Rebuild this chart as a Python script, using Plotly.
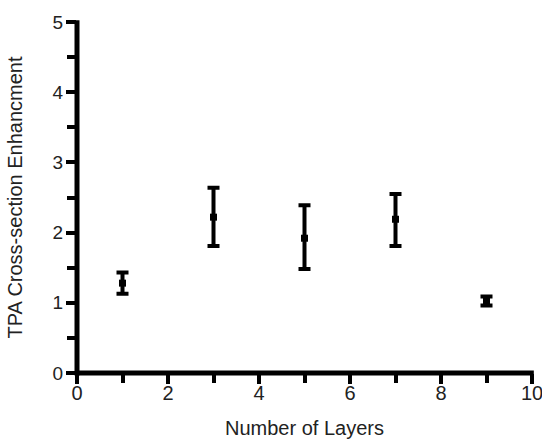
import plotly.graph_objects as go

layers = [1, 3, 5, 7, 9]
enhancement = [1.28, 2.22, 1.92, 2.19, 1.03]
err_plus = [0.15, 0.42, 0.47, 0.36, 0.06]
err_minus = [0.15, 0.41, 0.44, 0.38, 0.07]

x_ticks = [0, 2, 4, 6, 8, 10]
y_ticks = [0, 1, 2, 3, 4, 5]

fig = go.Figure()
fig.add_trace(go.Scatter(
    x=layers, y=enhancement, mode="markers",
    marker=dict(symbol="square", size=7, color="black"),
    error_y=dict(type="data", symmetric=False, array=err_plus, arrayminus=err_minus,
                 color="black", thickness=4, width=6),
    showlegend=False,
))

font = "Liberation Sans, Arial, sans-serif"
txt = "#222"

# axis lines drawn centred on the plot-area edges so ticks at 0 line up with them
fig.add_shape(type="line", xref="paper", yref="paper", x0=-0.004, x1=1.004, y0=0, y1=0,
              line=dict(color="black", width=5), layer="above")
fig.add_shape(type="line", xref="paper", yref="paper", x0=0, x1=0, y0=-0.007, y1=1.005,
              line=dict(color="black", width=5), layer="above")

fig.update_layout(
    width=542, height=439,
    margin=dict(l=77, r=10, t=22, b=66, autoexpand=False),
    paper_bgcolor="white", plot_bgcolor="white",
    font=dict(family=font, color=txt),
    xaxis=dict(
        range=[0, 10], tickvals=x_ticks, showgrid=False, zeroline=False,
        showline=False, ticklabeloverflow="allow", automargin=False,
        ticks="outside", ticklen=10, tickwidth=4, tickcolor="black",
        ticklabelstandoff=-8,
        tickfont=dict(size=20, family=font, color=txt),
        minor=dict(dtick=1, tick0=1, ticks="outside", ticklen=9, tickwidth=4, tickcolor="black", showgrid=False),
        title=dict(text="Number of Layers", font=dict(size=20, family=font, color=txt), standoff=18),
    ),
    yaxis=dict(
        range=[0, 5], tickvals=y_ticks, showgrid=False, zeroline=False,
        showline=False, ticklabeloverflow="allow", automargin=False,
        ticks="outside", ticklen=10, tickwidth=4, tickcolor="black",
        ticklabelstandoff=-1,
        tickfont=dict(size=19, family=font, color=txt),
        minor=dict(dtick=0.5, tick0=0.5, ticks="outside", ticklen=9, tickwidth=4, tickcolor="black", showgrid=False),
        title=dict(text="TPA Cross-section Enhancment", font=dict(size=20, family=font, color=txt), standoff=24),
    ),
)

fig.write_html("out.html")
